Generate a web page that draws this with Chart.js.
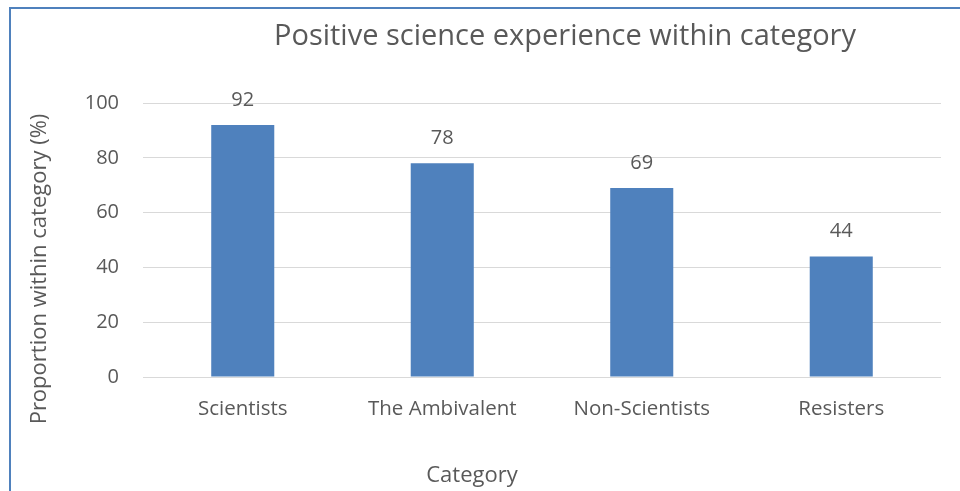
<!DOCTYPE html>
<html lang="en">
<head>
    <meta charset="UTF-8">
    <title>Positive science experience within category</title>
    <script src="https://cdn.jsdelivr.net/npm/chart.js"></script>
    <style>
        body {
            margin: 0;
            background: #ffffff;
        }

        .wrap {
            position: relative;
            width: 960px;
            height: 491px;
            overflow: hidden;
        }

        .frame {
            position: absolute;
            left: 9px;
            top: 7px;
            width: 1000px;
            height: 600px;
            border-left: 2px solid #4f81bd;
            border-top: 2px solid #4f81bd;
            pointer-events: none;
        }

        canvas {
            position: absolute;
            left: 0;
            top: 0;
        }
    </style>
</head>
<body>
<div class="wrap">
    <canvas id="chart" width="960" height="491"></canvas>
    <div class="frame"></div>
</div>

<script>
    const categories = ['Scientists', 'The Ambivalent', 'Non-Scientists', 'Resisters'];
    const positivePct = [92, 78, 69, 44];
    const yTicks = [0, 20, 40, 60, 80, 100];

    const textColor = '#595959';
    const fontFamily = '"Open Sans", sans-serif';

    // value labels above each bar, plus chart and axis titles
    const annotations = {
        id: 'annotations',
        afterDatasetsDraw(chart) {
            const ctx = chart.ctx;
            const meta = chart.getDatasetMeta(0);
            ctx.save();
            ctx.fillStyle = textColor;
            ctx.textAlign = 'center';
            ctx.textBaseline = 'middle';

            ctx.font = '20px ' + fontFamily;
            meta.data.forEach((bar, i) => {
                ctx.fillText(String(positivePct[i]), bar.x, bar.y - 25);
            });

            ctx.font = '29px ' + fontFamily;
            ctx.fillText('Positive science experience within category', 565, 37);

            ctx.font = '22px ' + fontFamily;
            ctx.fillText('Category', 472, 476);

            ctx.translate(40, 269);
            ctx.rotate(-Math.PI / 2);
            ctx.fillText('Proportion within category (%)', 0, 0);
            ctx.restore();
        }
    };

    new Chart(document.getElementById('chart'), {
        type: 'bar',
        data: {
            labels: categories,
            datasets: [{
                data: positivePct,
                backgroundColor: '#4f81bd',
                borderWidth: 0,
                categoryPercentage: 1,
                barPercentage: 0.316
            }]
        },
        options: {
            responsive: false,
            animation: false,
            layout: {
                padding: { left: 0, right: 19, top: 103, bottom: 0 }
            },
            plugins: {
                legend: { display: false },
                tooltip: { enabled: false },
                title: { display: false }
            },
            scales: {
                x: {
                    grid: { display: false, drawTicks: false },
                    border: { display: false },
                    ticks: {
                        color: textColor,
                        font: { family: fontFamily, size: 20.5 },
                        padding: 20,
                        maxRotation: 0
                    },
                    afterFit(scale) {
                        scale.height = 114;
                    }
                },
                y: {
                    min: 0,
                    max: 100,
                    afterBuildTicks(scale) {
                        scale.ticks = yTicks.map(v => ({ value: v }));
                    },
                    grid: { color: '#d9d9d9', lineWidth: 1, drawTicks: false },
                    border: { display: false },
                    ticks: {
                        color: textColor,
                        font: { family: fontFamily, size: 20 },
                        padding: 24
                    },
                    afterFit(scale) {
                        scale.width = 143;
                    }
                }
            }
        },
        plugins: [annotations]
    });
</script>
</body>
</html>
